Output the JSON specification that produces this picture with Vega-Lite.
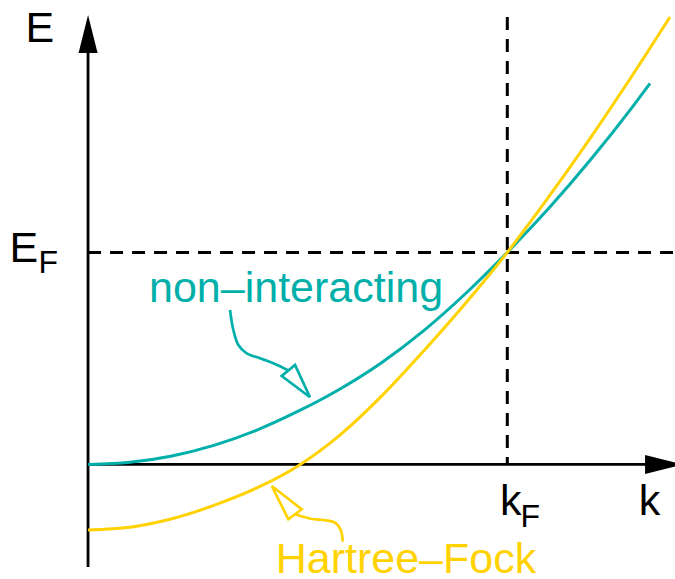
{
  "$schema": "https://vega.github.io/schema/vega-lite/v6.json",
  "width": 675,
  "height": 579,
  "padding": 0,
  "autosize": {"type": "none"},
  "config": {"view": {"stroke": null}, "font": "Liberation Sans"},
  "datasets": {
    "bands": [
      {"series": "free", "k": 0.0, "E": 0.0},
      {"series": "free", "k": 0.1, "E": 0.01},
      {"series": "free", "k": 0.2, "E": 0.04},
      {"series": "free", "k": 0.3, "E": 0.09},
      {"series": "free", "k": 0.4, "E": 0.16},
      {"series": "free", "k": 0.5, "E": 0.25},
      {"series": "free", "k": 0.6, "E": 0.355},
      {"series": "free", "k": 0.7, "E": 0.48},
      {"series": "free", "k": 0.8, "E": 0.63},
      {"series": "free", "k": 0.9, "E": 0.805},
      {"series": "free", "k": 1.0, "E": 1.0},
      {"series": "free", "k": 1.1, "E": 1.21},
      {"series": "free", "k": 1.2, "E": 1.44},
      {"series": "free", "k": 1.3, "E": 1.69},
      {"series": "free", "k": 1.3405, "E": 1.797},
      {"series": "hf", "k": 0.0, "E": -0.309},
      {"series": "hf", "k": 0.1, "E": -0.296},
      {"series": "hf", "k": 0.2, "E": -0.256},
      {"series": "hf", "k": 0.3, "E": -0.193},
      {"series": "hf", "k": 0.4, "E": -0.113},
      {"series": "hf", "k": 0.5, "E": -0.008},
      {"series": "hf", "k": 0.6, "E": 0.137},
      {"series": "hf", "k": 0.7, "E": 0.322},
      {"series": "hf", "k": 0.8, "E": 0.534},
      {"series": "hf", "k": 0.9, "E": 0.759},
      {"series": "hf", "k": 1.0, "E": 1.0},
      {"series": "hf", "k": 1.1, "E": 1.265},
      {"series": "hf", "k": 1.2, "E": 1.545},
      {"series": "hf", "k": 1.3, "E": 1.84},
      {"series": "hf", "k": 1.388, "E": 2.11}
    ],
    "fermi": [
      {"name": "EF", "k": 0.0, "E": 1.0, "k2": 1.4, "E2": 1.0},
      {"name": "kF", "k": 1.0, "E": 2.11, "k2": 1.0, "E2": 0.0}
    ],
    "axes": [
      {"name": "E", "k": 0.0, "E": -0.483, "k2": 0.0, "E2": 2.03},
      {"name": "k", "k": 0.0, "E": 0.0, "k2": 1.374, "E2": 0.0}
    ],
    "heads": [
      {"dir": "up", "k": 0.0, "E": 2.0298},
      {"dir": "right", "k": 1.3739, "E": 0.0}
    ],
    "shafts": [
      {"series": "free", "i": 0, "k": 0.3387, "E": 0.7285},
      {"series": "free", "i": 1, "k": 0.3466, "E": 0.6342},
      {"series": "free", "i": 2, "k": 0.3585, "E": 0.5634},
      {"series": "free", "i": 3, "k": 0.3785, "E": 0.5243},
      {"series": "free", "i": 4, "k": 0.4103, "E": 0.5007},
      {"series": "free", "i": 5, "k": 0.442, "E": 0.4772},
      {"series": "free", "i": 6, "k": 0.4778, "E": 0.4432},
      {"series": "hf", "i": 0, "k": 0.6075, "E": -0.364},
      {"series": "hf", "i": 1, "k": 0.6027, "E": -0.3088},
      {"series": "hf", "i": 2, "k": 0.5891, "E": -0.2744},
      {"series": "hf", "i": 3, "k": 0.5612, "E": -0.2617},
      {"series": "hf", "i": 4, "k": 0.5336, "E": -0.257},
      {"series": "hf", "i": 5, "k": 0.4937, "E": -0.2348}
    ],
    "tips": [
      {"series": "free", "i": 0, "k": 0.5295, "E": 0.3168},
      {"series": "free", "i": 1, "k": 0.462, "E": 0.4173},
      {"series": "free", "i": 2, "k": 0.4937, "E": 0.4691},
      {"series": "free", "i": 3, "k": 0.5295, "E": 0.3168},
      {"series": "hf", "i": 0, "k": 0.4382, "E": -0.1014},
      {"series": "hf", "i": 1, "k": 0.4778, "E": -0.2584},
      {"series": "hf", "i": 2, "k": 0.5097, "E": -0.2112},
      {"series": "hf", "i": 3, "k": 0.4382, "E": -0.1014}
    ],
    "symbols": [
      {"text": "E", "k": -0.1491, "E": 1.9921},
      {"text": "E", "k": -0.1872, "E": 0.9548},
      {"text": "k", "k": 0.9827, "E": -0.2381},
      {"text": "k", "k": 1.3136, "E": -0.2381}
    ],
    "subscripts": [
      {"text": "F", "k": -0.1183, "E": 0.9029},
      {"text": "F", "k": 1.0314, "E": -0.2947}
    ],
    "names": [
      {"series": "free", "text": "non–interacting", "k": 0.1455, "E": 0.7662},
      {"series": "hf", "text": "Hartree–Fock", "k": 0.4475, "E": -0.5116}
    ]
  },
  "encoding": {
    "x": {"field": "k", "type": "quantitative", "scale": {"domain": [-0.21, 1.4], "nice": false, "zero": false}, "axis": null},
    "y": {"field": "E", "type": "quantitative", "scale": {"domain": [-0.54, 2.19], "nice": false, "zero": false}, "axis": null}
  },
  "layer": [
    {
      "data": {"name": "fermi"},
      "mark": {"type": "rule", "color": "black", "strokeWidth": 3, "strokeDash": [13, 9]},
      "encoding": {"x2": {"field": "k2"}, "y2": {"field": "E2"}}
    },
    {
      "data": {"name": "axes"},
      "mark": {"type": "rule", "color": "black", "strokeWidth": 2.8},
      "encoding": {"x2": {"field": "k2"}, "y2": {"field": "E2"}}
    },
    {
      "data": {"name": "heads"},
      "mark": {"type": "point", "filled": true, "color": "black", "opacity": 1, "size": 1444, "strokeWidth": 0},
      "encoding": {
        "shape": {"field": "dir", "type": "nominal", "scale": {"domain": ["up", "right"], "range": ["M0,-1L0.5,1L-0.5,1Z", "M1,0L-1,-0.5L-1,0.5Z"]}, "legend": null}
      }
    },
    {
      "data": {"name": "bands"},
      "mark": {"type": "line", "strokeWidth": 3, "interpolate": "monotone"},
      "encoding": {
        "color": {"field": "series", "type": "nominal", "scale": {"domain": ["free", "hf"], "range": ["#00afaa", "#ffd200"]}, "legend": null}
      }
    },
    {
      "data": {"name": "shafts"},
      "mark": {"type": "line", "strokeWidth": 2.7, "interpolate": "catmull-rom"},
      "encoding": {
        "order": {"field": "i", "type": "quantitative"},
        "color": {"field": "series", "type": "nominal", "scale": {"domain": ["free", "hf"], "range": ["#00afaa", "#ffd200"]}, "legend": null}
      }
    },
    {
      "data": {"name": "tips"},
      "mark": {"type": "line", "strokeWidth": 2.7, "strokeJoin": "miter"},
      "encoding": {
        "order": {"field": "i", "type": "quantitative"},
        "color": {"field": "series", "type": "nominal", "scale": {"domain": ["free", "hf"], "range": ["#00afaa", "#ffd200"]}, "legend": null}
      }
    },
    {
      "data": {"name": "symbols"},
      "mark": {"type": "text", "align": "left", "baseline": "alphabetic", "fontSize": 43, "color": "black"},
      "encoding": {"text": {"field": "text"}}
    },
    {
      "data": {"name": "subscripts"},
      "mark": {"type": "text", "align": "left", "baseline": "alphabetic", "fontSize": 32, "color": "black"},
      "encoding": {"text": {"field": "text"}}
    },
    {
      "data": {"name": "names"},
      "mark": {"type": "text", "align": "left", "baseline": "alphabetic", "fontSize": 43},
      "encoding": {
        "text": {"field": "text"},
        "color": {"field": "series", "type": "nominal", "scale": {"domain": ["free", "hf"], "range": ["#00afaa", "#ffd200"]}, "legend": null}
      }
    }
  ]
}
